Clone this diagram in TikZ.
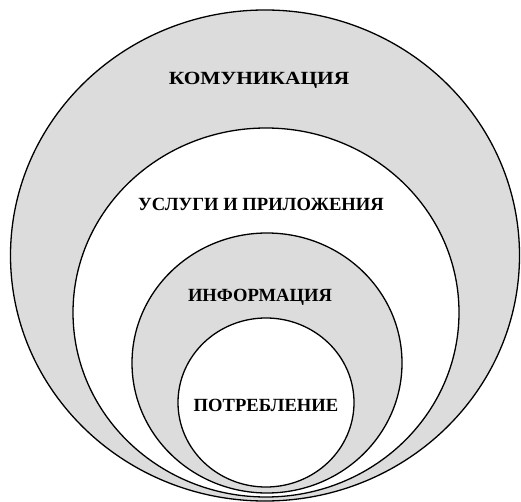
\documentclass[tikz,border=0pt]{standalone}
\usepackage{fontspec}
\setmainfont{Liberation Serif}
\definecolor{ringgray}{HTML}{DCDCDC}
\begin{document}
\begin{tikzpicture}[x=1pt,y=-1pt,
  ring/.style={draw=black,line width=1.3pt},
  label/.style={font=\bfseries\fontsize{18.6}{20}\selectfont,inner sep=0pt}]
\useasboundingbox (0,0) rectangle (521,502);
% nested rings, outermost first
\draw[ring,fill=ringgray] (265,255.5) ellipse [x radius=254.5,y radius=245.5];
\draw[ring,fill=white]    (266,312.5) ellipse [x radius=193,y radius=184.5];
\draw[ring,fill=ringgray] (267,363)   ellipse [x radius=135,y radius=130];
\draw[ring,fill=white]    (266,402.5) ellipse [x radius=88,y radius=84.5];
% ring captions
\node[label] (comm) at (259,80)  {\scalebox{1.15}[1]{КОМУНИКАЦИЯ}};
\node[label] (serv) at (261,204) {УСЛУГИ И ПРИЛОЖЕНИЯ};
\node[label] (info) at (260,297) {ИНФОРМАЦИЯ};
\node[label] (cons) at (266,405) {ПОТРЕБЛЕНИЕ};
\end{tikzpicture}
\end{document}
